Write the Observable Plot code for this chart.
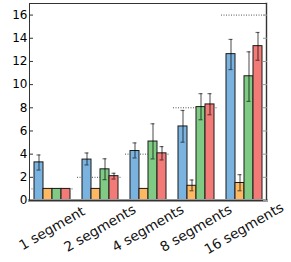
<!DOCTYPE html>
<html><head><meta charset="utf-8">
<script src="https://cdn.jsdelivr.net/npm/d3@7"></script>
<script src="https://cdn.jsdelivr.net/npm/@observablehq/plot@0.6"></script>
<style>body{margin:0;background:#fff}</style>
</head><body><div id="chart"></div>
<script>
const groups = ["1 segment","2 segments","4 segments","8 segments","16 segments"];
const seriesNames = ["A","B","C","D"];
const seriesColors = ["#7ab3e0","#fdb862","#7fcb84","#f27a77"];
const refValues = [1,2,4,8,16];
const valsA = [3.29,3.53,4.27,6.39,12.63];
const valsB = [1,1,1,1.27,1.51];
const valsC = [1,2.69,5.09,8.06,10.72];
const valsD = [1,2.1,4.07,8.29,13.32];
const loA = [2.63,3.07,3.67,5.03,11.3], hiA = [3.93,4.1,4.97,7.77,13.9];
const loB = [null,null,null,0.84,0.84], hiB = [null,null,null,1.77,2.23];
const loC = [null,1.8,3.59,6.97,8.55], hiC = [null,3.6,6.62,9.22,12.83];
const loD = [null,1.85,3.5,7.4,12.1], hiD = [null,2.35,4.65,9.22,14.5];
const yTicks = [0,2,4,6,8,10,12,14,16];

const vals = [valsA,valsB,valsC,valsD], los=[loA,loB,loC,loD], his=[hiA,hiB,hiC,hiD];
const rows = [];
groups.forEach((g,gi)=>seriesNames.forEach((s,si)=>rows.push({group:g,series:s,value:vals[si][gi],lo:los[si][gi],hi:his[si][gi]})));
const errRows = rows.filter(d=>d.lo!=null);
const refRows = groups.map((g,i)=>({group:g,ref:refValues[i]}));

const W=291,H=262,ML=21,MR=16,MT=3,MB=62;
const chart = Plot.plot({
  width:W,height:H,marginLeft:ML,marginRight:MR,marginTop:MT,marginBottom:MB,
  style:{fontFamily:"DejaVu Sans",background:"#fff",color:"#000"},
  fx:{domain:groups,paddingInner:0.061,paddingOuter:0.13,axis:null,label:null},
  x:{domain:seriesNames,paddingInner:0,paddingOuter:0.3,axis:null},
  y:{domain:[0,17],axis:null},
  color:{domain:seriesNames,range:seriesColors},
  marks:[
    Plot.ruleY(refRows,{fx:"group",y:"ref",stroke:"#555",strokeWidth:1,strokeDasharray:"1,1.5"}),
    Plot.barY(rows,{fx:"group",x:"series",y:"value",fill:"series",stroke:"#1a1a1a",strokeWidth:1}),
    Plot.ruleX(errRows,{fx:"group",x:"series",y1:"lo",y2:"hi",stroke:"#000",strokeOpacity:0.55,strokeWidth:1.3}),
    Plot.tickY(errRows,{fx:"group",x:"series",y:"lo",stroke:"#000",strokeOpacity:0.55,strokeWidth:1.2,insetLeft:2.5,insetRight:2.5}),
    Plot.tickY(errRows,{fx:"group",x:"series",y:"hi",stroke:"#000",strokeOpacity:0.55,strokeWidth:1.2,insetLeft:2.5,insetRight:2.5}),
    Plot.frame({facet:"super",anchor:"bottom",stroke:"#999",strokeWidth:3}),
    Plot.frame({facet:"super",anchor:"right",stroke:"#aaa",strokeWidth:2}),
    Plot.frame({facet:"super",stroke:"#333",strokeWidth:1}),
    Plot.axisY(yTicks,{anchor:"left",tickSize:0,tickPadding:2,fontSize:12,label:null}),
    Plot.axisY(yTicks,{anchor:"left",tickSize:-4,text:null,stroke:"#333",label:null}),
    Plot.axisY(yTicks,{anchor:"right",tickSize:-4,text:null,stroke:"#999",label:null}),
    Plot.text(groups,{fx:d=>d,text:d=>d,frameAnchor:"bottom",dy:28,rotate:-30,textAnchor:"middle",lineAnchor:"middle",fontSize:13.7,fill:"#111"})
  ]
});
document.getElementById("chart").appendChild(chart);
</script></body></html>
